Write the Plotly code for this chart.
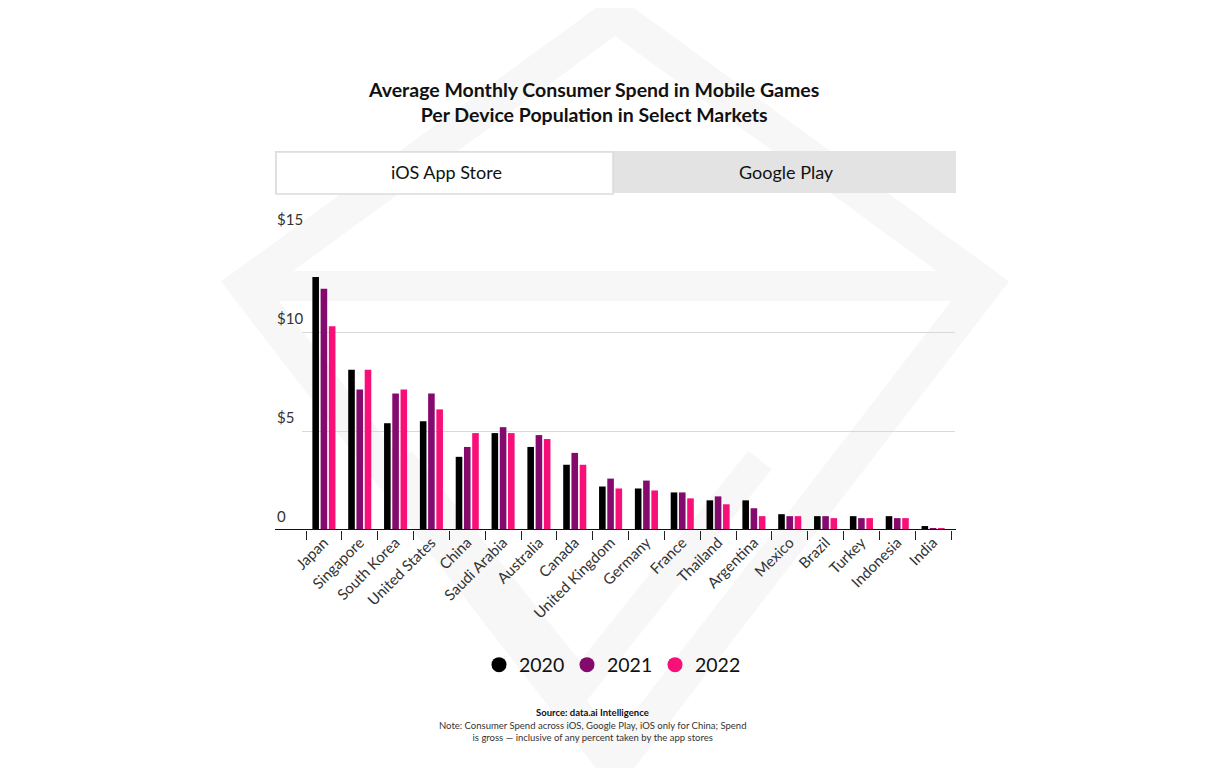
import plotly.graph_objects as go

# dati (USD, spesa media mensile per dispositivo)
markets = ["Japan", "Singapore", "South Korea", "United States", "China", "Saudi Arabia",
           "Australia", "Canada", "United Kingdom", "Germany", "France", "Thailand",
           "Argentina", "Mexico", "Brazil", "Turkey", "Indonesia", "India"]
spend_2020 = [12.8, 8.1, 5.4, 5.5, 3.7, 4.9, 4.2, 3.3, 2.2, 2.1, 1.9, 1.5, 1.5, 0.8, 0.7, 0.7, 0.7, 0.2]
spend_2021 = [12.2, 7.1, 6.9, 6.9, 4.2, 5.2, 4.8, 3.9, 2.6, 2.5, 1.9, 1.7, 1.1, 0.7, 0.7, 0.6, 0.6, 0.1]
spend_2022 = [10.3, 8.1, 7.1, 6.1, 4.9, 4.9, 4.6, 3.3, 2.1, 2.0, 1.6, 1.3, 0.7, 0.7, 0.6, 0.6, 0.6, 0.1]
years = ["2020", "2021", "2022"]
y_ticks = [0, 5, 10, 15]
y_tick_labels = ["0", "$5", "$10", "$15"]

colors = ["#000000", "#850A6E", "#F80F78"]
W, H = 1209, 768
FONT = "Lato"
OFF = 8  # margine del body della pagina html


def px_x(p):
    return (p - OFF) / W


def px_y(p):
    return 1 - (p - OFF) / H


fig = go.Figure()

for yr, vals, col in zip(years, [spend_2020, spend_2021, spend_2022], colors):
    fig.add_trace(go.Bar(x=markets, y=vals, name=yr, marker=dict(color=col, line=dict(width=0)),
                         showlegend=False))
    # legenda con cerchi
    fig.add_trace(go.Scatter(x=[None], y=[None], mode="markers", name=yr,
                             marker=dict(color=col, size=15, symbol="circle")))

cat_w = (951 - 306) / len(markets)
fig.update_layout(
    width=W, height=H,
    margin=dict(l=0, r=0, t=0, b=0),
    paper_bgcolor="white", plot_bgcolor="rgba(0,0,0,0)",
    barmode="group", bargap=0.31, bargroupgap=0.2,
    font=dict(family=FONT, color="#222"),
    xaxis=dict(domain=[px_x(302), px_x(955)],
               range=[-0.5 - 4 / cat_w, len(markets) - 0.5 + 4 / cat_w],
               tickangle=-45, tickfont=dict(size=15, color="#333", family=FONT),
               ticks="outside", tickson="boundaries", ticklen=9, tickcolor="#222", tickwidth=1,
               showgrid=False, showline=False, zeroline=False, fixedrange=True, automargin=False),
    yaxis=dict(domain=[px_y(530), px_y(233)], range=[0, 15.02],
               tickvals=y_ticks, showticklabels=False, ticks="", automargin=False,
               showgrid=True, gridcolor="#d9d9d9", gridwidth=1, zeroline=False, showline=False),
    legend=dict(orientation="h", x=px_x(611), xanchor="center", y=px_y(665), yanchor="middle",
                font=dict(size=19.5, color="#111", family=FONT), itemwidth=30,
                entrywidth=43, entrywidthmode="pixels",
                bgcolor="rgba(0,0,0,0)"),
    showlegend=True,
)

shapes = []
# filigrana di sfondo (rombo chiaro)
wm = "#f7f7f7"
shapes.append(dict(type="path", xref="paper", yref="paper", layer="below",
                   path="M {} {} L {} {} L {} {} L {} {} Z".format(
                       px_x(615), px_y(15), px_x(985), px_y(285),
                       px_x(615), px_y(765), px_x(245), px_y(285)),
                   line=dict(color=wm, width=34), fillcolor="rgba(0,0,0,0)"))
shapes.append(dict(type="line", xref="paper", yref="paper", layer="below",
                   x0=px_x(245), x1=px_x(985), y0=px_y(286), y1=px_y(286),
                   line=dict(color=wm, width=30)))
shapes.append(dict(type="path", xref="paper", yref="paper", layer="below",
                   path="M {} {} L {} {} L {} {}".format(
                       px_x(400), px_y(460), px_x(580), px_y(685), px_x(760), px_y(460)),
                   line=dict(color=wm, width=30), fillcolor="rgba(0,0,0,0)"))
# schede iOS / Google Play
shapes.append(dict(type="rect", xref="paper", yref="paper", layer="below",
                   x0=px_x(275), x1=px_x(956), y0=px_y(193), y1=px_y(151),
                   fillcolor="#e3e3e3", line=dict(width=0)))
shapes.append(dict(type="rect", xref="paper", yref="paper", layer="below",
                   x0=px_x(276), x1=px_x(613), y0=px_y(194), y1=px_y(152),
                   fillcolor="white", line=dict(color="#dcdcdc", width=1.5)))
# linea di base
shapes.append(dict(type="line", xref="paper", yref="y", x0=px_x(275), x1=px_x(956), y0=0, y1=0,
                   line=dict(color="#111", width=2)))
fig.update_layout(shapes=shapes)

annotations = [
    dict(text="<b>Average Monthly Consumer Spend in Mobile Games<br>Per Device Population in Select Markets</b>",
         x=px_x(593), y=px_y(102), xref="paper", yref="paper", showarrow=False, yanchor="middle",
         font=dict(size=19.5, color="#111", family=FONT), align="center"),
    dict(text="iOS App Store", x=px_x(446), y=px_y(172), xref="paper", yref="paper", showarrow=False,
         yanchor="middle", font=dict(size=18, color="#111", family=FONT)),
    dict(text="Google Play", x=px_x(786), y=px_y(172), xref="paper", yref="paper", showarrow=False,
         yanchor="middle", font=dict(size=18, color="#111", family=FONT)),
    dict(text="<b>Source: data.ai Intelligence</b>", x=px_x(592), y=px_y(712), xref="paper", yref="paper",
         showarrow=False, yanchor="middle", font=dict(size=9.5, color="#111", family=FONT)),
    dict(text="Note: Consumer Spend across iOS, Google Play, iOS only for China; Spend<br>"
              "is gross \u2014 inclusive of any percent taken by the app stores",
         x=px_x(592), y=px_y(731), xref="paper", yref="paper", showarrow=False, align="center",
         yanchor="middle", font=dict(size=9.5, color="#333", family=FONT)),
]
for v, lab in zip(y_ticks, y_tick_labels):
    annotations.append(dict(text=lab, x=px_x(275), y=v, xref="paper", yref="y", xanchor="left",
                            yanchor="bottom", yshift=3, showarrow=False,
                            font=dict(size=15, color="#333", family=FONT)))
fig.update_layout(annotations=annotations)

fig.write_html("out.html")
